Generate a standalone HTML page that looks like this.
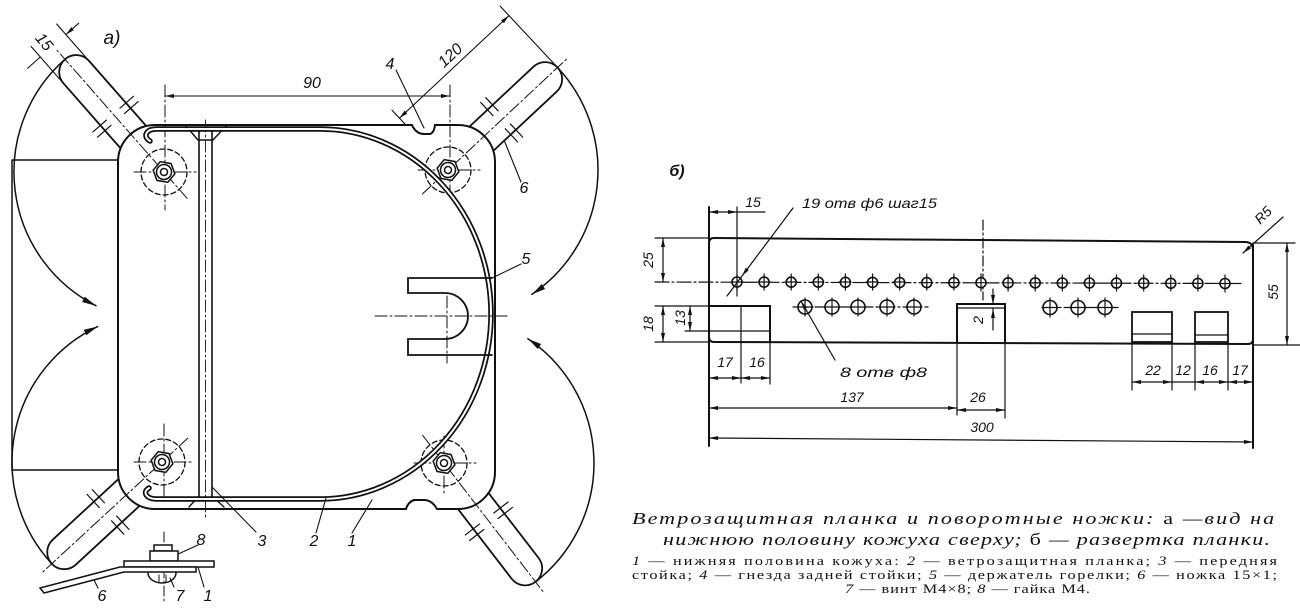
<!DOCTYPE html>
<html><head><meta charset="utf-8">
<style>
html,body{margin:0;padding:0;background:#fff;}
svg{display:block}
.t{font-family:"Liberation Sans",sans-serif;font-style:italic;fill:#111;stroke:none}
.c{font-family:"Liberation Serif",serif;fill:#111;stroke:none}
</style></head><body>
<svg width="1300" height="616" viewBox="0 0 1300 616" xmlns="http://www.w3.org/2000/svg">
<defs>
<marker id="A" viewBox="0 0 14 6" refX="14" refY="3" markerWidth="14" markerHeight="6" markerUnits="userSpaceOnUse" orient="auto-start-reverse"><path d="M0,0 L14,3 L0,6 Z" fill="#111"/></marker>
<marker id="a" viewBox="0 0 9 4" refX="9" refY="2" markerWidth="9" markerHeight="4" markerUnits="userSpaceOnUse" orient="auto-start-reverse"><path d="M0,0 L9,2 L0,4 Z" fill="#111"/></marker>
</defs>

<g fill="none" stroke="#111" stroke-width="1.8" stroke-linecap="round">
<path d="M12,160 L118,160 M12,160 L12,470 L118,470" stroke-width="1.5"/>

<g transform="translate(164,172) rotate(-131.3)">
 <path d="M150,0 A150,150 0 0 0 -55.5,-139.4" marker-end="url(#A)" stroke-width="1.5"/>
 <path d="M0,-17 L133,-17 A17,17 0 0 1 133,17 L0,17 Z" fill="#fff"/>
 <path d="M70,-27 L70,-9 M77,-27 L77,-9 M70,9 L70,27 M77,9 L77,27" stroke-width="1.2"/>
 <path d="M133,-17 L182,-17 M133,17 L182,17" stroke-width="1.1"/>
 <path d="M168,-34 L168,-17 M168,34 L168,17" stroke-width="1.1" marker-end="url(#a)"/>
</g>
<g transform="translate(162,462) rotate(137.3)">
 <path d="M150,0 A150,150 0 0 1 -44.6,143.2" marker-end="url(#A)" stroke-width="1.5"/>
 <path d="M0,-17 L133,-17 A17,17 0 0 1 133,17 L0,17 Z" fill="#fff"/>
 <path d="M70,-27 L70,-9 M77,-27 L77,-9 M70,9 L70,27 M77,9 L77,27" stroke-width="1.2"/>
</g>
<g transform="translate(448,170) rotate(-43.1)">
 <path d="M150,0 A150,150 0 0 1 -23.7,148.1" marker-end="url(#A)" stroke-width="1.5"/>
 <path d="M0,-17 L133,-17 A17,17 0 0 1 133,17 L0,17 Z" fill="#fff"/>
 <path d="M70,-27 L70,-9 M77,-27 L77,-9 M70,9 L70,27 M77,9 L77,27" stroke-width="1.2"/>
 <path d="M0,-15 L0,-82 M150,5 L150,-84" stroke-width="1.1"/>
 <path d="M0,-71 L150,-71" stroke-width="1.1" marker-start="url(#a)" marker-end="url(#a)"/>
 <text class="t" x="80" y="-77" font-size="16" text-anchor="middle">120</text>
</g>
<g transform="translate(444,463) rotate(52.4)">
 <path d="M150,0 A150,150 0 0 0 -47.3,-142.3" marker-end="url(#A)" stroke-width="1.5"/>
 <path d="M0,-17 L133,-17 A17,17 0 0 1 133,17 L0,17 Z" fill="#fff"/>
 <path d="M70,-27 L70,-9 M77,-27 L77,-9 M70,9 L70,27 M77,9 L77,27" stroke-width="1.2"/>
</g>

<path d="M155,125 L412,125 Q416,134 424,134 L430,134 Q434,133 435,125 L458,125 A37,37 0 0 1 495,162 L495,472 A37,37 0 0 1 458,509 L437,509 Q432,500 424,500 L414,500 Q408,502 406,509 L155,509 A37,37 0 0 1 118,472 L118,162 A37,37 0 0 1 155,125 Z" fill="#fff" stroke-width="2"/>

<g stroke-width="1" stroke-dasharray="12 3 2 3">
 <path d="M-35,0 L165,0" transform="translate(164,172) rotate(-131.3)"/>
 <path d="M-35,0 L165,0" transform="translate(162,462) rotate(137.3)"/>
 <path d="M-35,0 L165,0" transform="translate(448,170) rotate(-43.1)"/>
 <path d="M-35,0 L165,0" transform="translate(444,463) rotate(52.4)"/>
</g>
<g stroke-width="1.3" stroke-dasharray="5 3">
 <circle cx="164" cy="172" r="23"/>
 <circle cx="162" cy="462" r="23"/>
 <circle cx="448" cy="170" r="23"/>
 <circle cx="444" cy="463" r="23"/>
</g>
<g stroke-width="1" stroke-dasharray="12 3 2 3">
 <path d="M134,172 L196,172 M165,85 L165,210"/>
 <path d="M418,170 L480,170 M450,85 L450,200"/>
 <path d="M134,462 L194,462 M164,424 L164,498"/>
 <path d="M414,463 L476,463 M444,436 L444,494"/>
</g>

<path d="M199,130 L199,498 M212,130 L212,498" stroke-width="1.6"/>
<path d="M205.5,120 L205.5,520" stroke-width="0.9" stroke-dasharray="12 3 2 3"/>
<path d="M186,126 L198,140 L213,140 L226,126" stroke-width="1.4"/>
<path d="M189,507 L199,496 M224,507 L212,496" stroke-width="1.4"/>

<path d="M150,141 C143,137 145,129 157,129 L320,129 A171,185 0 0 1 320,499 L157,499 C146,499 142,492 149,488" stroke-width="5.5"/>
<path d="M150,141 C143,137 145,129 157,129 L320,129 A171,185 0 0 1 320,499 L157,499 C146,499 142,492 149,488" stroke="#fff" stroke-width="2"/>

<path d="M492,278 L408,278 L408,293 L445,293 A23,23 0 0 1 445,339 L408,339 L408,355 L492,355" stroke-width="1.8"/>
<path d="M375,316 L508,316 M447,296 L447,363" stroke-width="1" stroke-dasharray="12 3 2 3"/>

<g stroke-width="1.5" fill="#fff">
 <g transform="translate(164,172) rotate(10)"><path d="M11,0 L5.5,9.5 L-5.5,9.5 L-11,0 L-5.5,-9.5 L5.5,-9.5 Z"/><circle r="7.5"/><circle r="3.5"/></g>
 <g transform="translate(162,462) rotate(10)"><path d="M11,0 L5.5,9.5 L-5.5,9.5 L-11,0 L-5.5,-9.5 L5.5,-9.5 Z"/><circle r="7.5"/><circle r="3.5"/></g>
 <g transform="translate(448,170) rotate(10)"><path d="M11,0 L5.5,9.5 L-5.5,9.5 L-11,0 L-5.5,-9.5 L5.5,-9.5 Z"/><circle r="7.5"/><circle r="3.5"/></g>
 <g transform="translate(444,463) rotate(10)"><path d="M11,0 L5.5,9.5 L-5.5,9.5 L-11,0 L-5.5,-9.5 L5.5,-9.5 Z"/><circle r="7.5"/><circle r="3.5"/></g>
</g>

<path d="M165,96 L450,96" stroke-width="1.1" marker-start="url(#a)" marker-end="url(#a)"/>

<path d="M396,70 L424,128 M521,264 L490,279 M521,182 L504,140 M212,487 L256,532 M316,533 L326,498 M352,533 L372,500 M198,545 L176,555 M98,588 L94,580 M174,587 L170,578 M204,587 L198,567" stroke-width="1.1"/>

<path d="M164,532 L164,603" stroke-width="1" stroke-dasharray="10 3 2 3"/>
<rect x="154" y="545" width="18" height="6" stroke-width="1.5" fill="#fff"/>
<rect x="150" y="551" width="28" height="10" stroke-width="1.5" fill="#fff"/>
<rect x="124" y="561" width="90" height="6" stroke-width="1.5" fill="#fff"/>
<path d="M40,588 L120,567 L196,567 L196,572 L124,572 L44,593 Z" stroke-width="1.5" fill="#fff"/>
<path d="M148,573 A14,10 0 0 0 176,573" stroke-width="1.5"/>
<path d="M159,575 L159,582 M166,575 L166,582" stroke-width="1"/>
</g>

<g class="t" font-size="16" text-anchor="middle">
 <text x="112" y="44" font-size="19">a)</text>
 <text x="312" y="88">90</text>
 <text x="390" y="69">4</text>
 <text x="524" y="193">6</text>
 <text x="526" y="264">5</text>
 <text x="262" y="546">3</text>
 <text x="314" y="546">2</text>
 <text x="352" y="546">1</text>
 <text x="201" y="545">8</text>
 <text x="102" y="601">6</text>
 <text x="180" y="601">7</text>
 <text x="208" y="601">1</text>
 <text x="44" y="47" transform="rotate(50 44 42)">15</text>
</g>

<g fill="none" stroke="#111" stroke-width="1.2" stroke-linecap="round">
<path d="M709,243 Q709,238 714,238 L1245,242 Q1253,242 1253,250 L1253,339 Q1253,344 1248,344 L714,342 Q709,342 709,337" stroke-width="2"/>
<path d="M709,207 L709,446" stroke-width="2"/>
<path d="M1253,244 L1253,448" stroke-width="2"/>
<path d="M655,238 L709,238 M655,306 L709,306 M655,342 L709,342 M685,331 L770,331"/>
<path d="M737,207 L737,296"/>
<path d="M723,212 L709,212" marker-end="url(#a)"/>
<path d="M723,212 L737,212" marker-end="url(#a)"/>
<path d="M737,212 L765,212"/>
<path d="M663,238 L663,282" marker-start="url(#a)" marker-end="url(#a)"/>
<path d="M663,306 L663,342" marker-start="url(#a)" marker-end="url(#a)"/>
<path d="M690,306 L690,331" marker-start="url(#a)" marker-end="url(#a)"/>
<path d="M709,306 L770,306 L770,342" stroke-width="2"/>
<path d="M741,306 L741,383 M770,342 L770,384"/>
<path d="M709,378 L741,378" marker-start="url(#a)" marker-end="url(#a)"/>
<path d="M741,378 L770,378" marker-start="url(#a)" marker-end="url(#a)"/>
<path d="M709,408 L957,408" marker-start="url(#a)" marker-end="url(#a)"/>
<path d="M957,410 L1005,410" marker-start="url(#a)" marker-end="url(#a)"/>
<path d="M709,438 L1253,442" marker-start="url(#a)" marker-end="url(#a)"/>
<path d="M957,342 L957,304 L1005,304 L1005,342" stroke-width="2"/>
<path d="M957,308 L1005,308 M957,342 L957,415 M1005,342 L1005,418"/>
<path d="M983,220 L983,300" stroke-dasharray="10 3 2 3"/>
<path d="M993,289 L993,304" marker-end="url(#a)"/>
<path d="M993,330 L993,309" marker-end="url(#a)"/>
<rect x="1132" y="312" width="40" height="30" stroke-width="1.8"/>
<path d="M1132,334 L1172,334"/>
<rect x="1195" y="312" width="33" height="30" stroke-width="1.8"/>
<path d="M1195,335 L1228,335"/>
<path d="M1132,342 L1132,390 M1172,342 L1172,390 M1195,342 L1195,390 M1228,342 L1228,390"/>
<path d="M1132,382 L1172,382" marker-start="url(#a)" marker-end="url(#a)"/>
<path d="M1172,382 L1195,382"/>
<path d="M1195,382 L1228,382" marker-start="url(#a)" marker-end="url(#a)"/>
<path d="M1228,382 L1253,382" marker-start="url(#a)" marker-end="url(#a)"/>
<path d="M1253,243 L1295,243 M1253,345 L1300,345"/>
<path d="M1287,243 L1287,345" marker-start="url(#a)" marker-end="url(#a)"/>
<path d="M1283,217 L1243,253" marker-end="url(#a)"/>
<path d="M655,282 L1242,283.5" stroke-dasharray="14 3 2 3"/>
<path d="M793,307 L928,307 M1042,307.5 L1118,307.5" stroke-dasharray="14 3 2 3"/>
<g stroke-width="1.6" fill="#fff">
<circle cx="737" cy="282" r="5"/><circle cx="764.1" cy="282.1" r="5"/><circle cx="791.2" cy="282.2" r="5"/><circle cx="818.3" cy="282.2" r="5"/><circle cx="845.4" cy="282.3" r="5"/><circle cx="872.6" cy="282.4" r="5"/><circle cx="899.7" cy="282.5" r="5"/><circle cx="926.8" cy="282.6" r="5"/><circle cx="953.9" cy="282.6" r="5"/><circle cx="981" cy="282.7" r="5"/><circle cx="1008.1" cy="282.8" r="5"/><circle cx="1035.2" cy="282.9" r="5"/><circle cx="1062.3" cy="283" r="5"/><circle cx="1089.4" cy="283" r="5"/><circle cx="1116.5" cy="283.1" r="5"/><circle cx="1143.7" cy="283.2" r="5"/><circle cx="1170.8" cy="283.3" r="5"/><circle cx="1197.9" cy="283.4" r="5"/><circle cx="1225" cy="283.5" r="5"/>
</g>
<path d="M737,274 L737,290 M764.1,274 L764.1,290 M791.2,274 L791.2,290 M818.3,274 L818.3,290 M845.4,274 L845.4,290 M872.6,274 L872.6,290 M899.7,274 L899.7,290 M926.8,274 L926.8,290 M953.9,274 L953.9,290 M981,274 L981,291 M1008.1,275 L1008.1,291 M1035.2,275 L1035.2,291 M1062.3,275 L1062.3,291 M1089.4,275 L1089.4,291 M1116.5,275 L1116.5,291 M1143.7,275 L1143.7,291 M1170.8,275 L1170.8,291 M1197.9,275 L1197.9,291 M1225,275 L1225,292"/>
<path d="M731,282 L743,282 M758,282 L770,282 M785,282 L797,282 M812,282 L824,282 M839,282 L851,282 M866,282 L878,282 M893,282 L905,282 M920,282.6 L932,282.6 M947,282.6 L959,282.6 M975,282.7 L987,282.7 M1002,282.8 L1014,282.8 M1029,282.9 L1041,282.9 M1056,283 L1068,283 M1083,283 L1095,283 M1110,283.1 L1122,283.1 M1137,283.2 L1149,283.2 M1164,283.3 L1176,283.3 M1191,283.4 L1203,283.4 M1219,283.5 L1231,283.5"/>
<g stroke-width="1.6" fill="#fff">
<circle cx="805" cy="307" r="7"/><circle cx="832" cy="307" r="7"/><circle cx="858" cy="307" r="7"/><circle cx="887" cy="307" r="7"/><circle cx="914" cy="307" r="7"/><circle cx="1050" cy="307.5" r="7"/><circle cx="1078" cy="307.5" r="7"/><circle cx="1105" cy="307.5" r="7"/>
</g>
<path d="M805,298 L805,316 M832,298 L832,316 M858,298 L858,316 M887,298 L887,316 M914,298 L914,316 M1050,298 L1050,317 M1078,298 L1078,317 M1105,298 L1105,317 M797,307 L813,307 M824,307 L840,307 M850,307 L866,307 M879,307 L895,307 M906,307 L922,307 M1042,307.5 L1058,307.5 M1070,307.5 L1086,307.5 M1097,307.5 L1113,307.5"/>
<path d="M793,208 L742,276" marker-end="url(#a)"/>
<path d="M742,276 L727,296"/>
<path d="M835,360 L801,301" marker-end="url(#a)"/>
</g>

<g class="t" font-size="14" text-anchor="middle">
 <text x="677" y="176" font-size="16" font-weight="bold">б)</text>
 <text x="753" y="207">15</text>
 <text x="802" y="208" text-anchor="start" textLength="135" lengthAdjust="spacingAndGlyphs">19 отв ф6 шаг15</text>
 <text x="840" y="377" text-anchor="start" textLength="87" lengthAdjust="spacingAndGlyphs">8 отв ф8</text>
 <text x="648" y="265" transform="rotate(-90 648 260)">25</text>
 <text x="648" y="329" transform="rotate(-90 648 324)">18</text>
 <text x="680" y="323" transform="rotate(-90 680 318)">13</text>
 <text x="978" y="325" transform="rotate(-90 978 320)">2</text>
 <text x="1273" y="297" transform="rotate(-90 1273 292)">55</text>
 <text x="1263" y="220" transform="rotate(-45 1263 215)">R5</text>
 <text x="725" y="367">17</text>
 <text x="757" y="367">16</text>
 <text x="852" y="402">137</text>
 <text x="978" y="402">26</text>
 <text x="982" y="432">300</text>
 <text x="1153" y="375">22</text>
 <text x="1183" y="375">12</text>
 <text x="1210" y="375">16</text>
 <text x="1240" y="375">17</text>
</g>

<g class="c">
 <text transform="translate(632,524) scale(1.3,1)" x="0" y="0" font-size="17" font-style="italic" textLength="494" lengthAdjust="spacing">Ветрозащитная планка и поворотные ножки: <tspan font-style="normal">а</tspan> —вид на</text>
 <text transform="translate(663,545) scale(1.3,1)" x="0" y="0" font-size="17" font-style="italic" textLength="467" lengthAdjust="spacing">нижнюю половину кожуха сверху; <tspan font-style="normal">б</tspan> — развертка планки.</text>
 <text transform="translate(632,565) scale(1.25,1)" x="0" y="0" font-size="13" textLength="516" lengthAdjust="spacing"><tspan font-style="italic">1</tspan> — нижняя половина кожуха: <tspan font-style="italic">2</tspan> — ветрозащитная планка; <tspan font-style="italic">3</tspan> — передняя</text>
 <text transform="translate(632,579) scale(1.25,1)" x="0" y="0" font-size="13" textLength="516" lengthAdjust="spacing">стойка; <tspan font-style="italic">4</tspan> — гнезда задней стойки; <tspan font-style="italic">5</tspan> — держатель горелки; <tspan font-style="italic">6</tspan> — ножка 15×1;</text>
 <text transform="translate(845,593) scale(1.25,1)" x="0" y="0" font-size="13" textLength="196" lengthAdjust="spacing"><tspan font-style="italic">7</tspan> — винт М4×8; <tspan font-style="italic">8</tspan> — гайка М4.</text>
</g>
</svg>
</body></html>
